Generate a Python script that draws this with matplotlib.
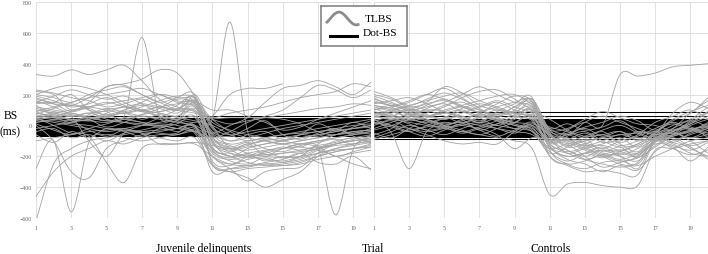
import numpy as np
import matplotlib
matplotlib.use("Agg")
import matplotlib.pyplot as plt
from matplotlib.path import Path
from matplotlib.patches import PathPatch

plt.rcParams["font.family"] = ["Liberation Serif", "DejaVu Serif"]

N = np.nan
trials = list(range(1, 21))
x_ticks = [1, 3, 5, 7, 9, 11, 13, 15, 17, 19]
y_ticks = [-600, -400, -200, 0, 200, 400, 600, 800]
panel_titles = ["Juvenile delinquents", "Controls"]
legend_labels = ["TLBS", "Dot-BS"]

# Trial-level bias scores (TLBS), juvenile delinquents
jd_tlbs = [
    [330, 320, 360, 330, 360, 390, 290, 170, 120, 90, 40, 10, 30, 50, 70, 90, 110, 120, 140, 130],
    [100, 80, 60, 80, 90, 60, 570, 60, 50, 30, 0, -60, -100, -80, -60, -50, -40, -20, 0, 10],
    [150, 140, 130, 180, 250, 270, 300, 360, 340, 190, 0, -150, -200, -180, -150, -120, -100, -80, -60, -50],
    [60, 50, 40, 30, 20, 40, 60, 50, 40, 60, 40, 670, -40, -100, -120, -100, -80, -60, -40, -30],
    [-280, -100, -560, -110, -60, -80, -100, -80, -60, -40, -100, -150, -160, -140, -120, -100, -80, -60, -50, -40],
    [50, 0, -50, -70, -240, -370, -150, -120, -120, -120, -200, -250, -260, -240, -220, -180, -150, -120, -100, -80],
    [-620, -250, -150, -100, -80, -60, -40, -30, -20, -10, -200, -250, -220, -200, -180, -160, -140, -120, -100, -90],
    [-460, -300, -200, -150, -100, -120, -80, -60, -50, 0, -300, -280, -260, -250, -240, -220, -180, -160, -150, -130],
    [20, 30, 10, 0, -20, -30, -40, -50, -60, -30, -150, -200, -180, -160, -150, -140, -150, -580, -150, -100],
    [80, 60, 40, 50, 60, 40, 20, 10, 0, -50, -250, -300, -340, -400, -350, -300, -200, -150, -120, -100],
    [100, 80, 60, 80, 40, 20, 0, 0, -20, -40, -200, -280, -360, -300, -280, -270, -180, -120, -100, -80],
    [80, 60, 40, 30, 60, 80, 100, 60, 40, 20, 60, 200, 240, 240, 270, N, N, N, N, N],
    [50, 40, 30, 40, 60, 80, 60, 40, 20, 0, -50, 0, 50, 150, 240, 260, 290, 250, 200, 280],
    [20, 40, 60, 50, 30, 20, 10, 0, -20, -40, -80, -40, 20, 60, 100, 180, 260, 230, 180, 230],
    [200, 180, 150, 200, 230, 250, 200, 150, 100, 80, 50, 80, 100, 120, 150, 180, 200, 220, 270, 250],
    [220, 200, 100, 150, 250, 260, 200, 150, 180, 200, -100, -200, -150, -120, -100, -80, -60, -40, -20, 0],
    [180, 150, 200, 100, 50, 100, 150, 200, 180, 150, -150, -180, -200, -220, -230, -200, -150, -100, -80, -60],
    [120, 100, 80, 60, 100, 120, 140, 120, 100, 180, -250, -280, -270, -250, -260, -240, -200, -170, -150, -120],
    [160, 120, 60, -100, -200, -50, 0, 50, 100, 150, -100, -150, -120, -100, -80, -60, -40, -30, -20, -10],
    [0, -100, -300, -340, -150, -100, -60, -40, -20, 0, -180, -220, -200, -190, -180, -170, -150, -130, -120, -100],
    [-100, -80, -60, -40, -30, -20, -50, -80, -100, -80, -260, -300, -280, -270, -260, -250, -220, -200, -180, -160],
    [140, 150, 130, 120, 100, 80, 100, 120, 140, 160, 40, -40, -80, -100, -120, -140, -160, -200, -250, -280],
    [60, 80, 100, 120, 140, 160, 180, 200, 150, 120, -50, -100, -80, -50, -20, 0, 20, 40, 60, 80],
    [40, 20, 0, -20, -40, -20, 0, 20, 40, 60, -120, -160, -140, -120, -100, -80, -60, -40, -20, 0],
    [110, 90, 70, 50, 30, 50, 70, 90, 110, 130, -60, -120, -100, -80, -60, -40, -20, 0, 20, 40],
    [200, 240, 260, 240, 200, 150, 100, 80, 60, 100, -80, -130, -180, -200, -210, -200, -180, -150, -130, -110],
    [-20, 0, 20, 40, 80, 120, 100, 80, 60, 120, -140, -200, -240, -260, -250, -230, -200, -170, -150, -140],
    [90, 120, 150, 180, 200, 220, 240, 200, 160, 140, 20, -30, -60, -80, -100, -120, -100, -80, -60, -40],
    [30, 60, 90, 120, 150, 120, 90, 60, 30, 200, -10, -60, -40, -20, 0, 20, 40, 60, 80, 100],
    [170, 140, 90, 110, 60, 80, 40, 70, 30, -10, -90, -140, -110, -150, -170, -130, -110, -90, -120, -60],
    [230, 210, 180, 160, 120, 140, 170, 130, 100, 160, -20, -100, -60, -40, -90, -60, 10, -30, 20, -20],
    [-40, -20, -80, -60, -100, -50, -30, -10, -40, -20, -170, -210, -190, -230, -200, -210, -160, -120, -90, -70],
    [130, 60, 20, 70, 110, 90, 120, 160, 190, 170, -70, -170, -120, -190, -150, -120, -140, -200, -170, -140],
    [70, 110, 140, 100, 70, 100, 130, 110, 80, 150, 100, 100, 60, 20, -30, -10, 40, 80, 120, 160],
    [10, -30, -60, -20, 10, 40, 20, -10, 30, 90, -230, -260, -200, -170, -210, -180, -240, -250, -200, -290],
    [190, 160, 120, 140, 180, 130, 90, 120, 100, 110, 50, 50, 50, 50, 40, 10, -40, -60, -10, 30],
    [-60, -110, -40, -80, -20, -40, -70, -20, 10, 50, -160, -230, -250, -210, -240, -200, -120, -60, -40, -30],
    [90, 50, 80, 40, -10, 20, 70, 110, 170, 140, -40, -70, -20, 30, -60, -90, -50, -20, -70, -110],
    [150, 190, 230, 200, 170, 190, 140, 90, 130, 180, -110, -180, -210, -170, -140, -160, -130, -110, -80, -120],
    [40, 70, 30, -30, -70, -30, -50, -120, -120, -110, -130, -150, -130, -90, -100, -60, -70, -30, -50, -20],
]

# Trial-level bias scores (TLBS), controls
ct_tlbs = [
    [80, 60, 40, 60, 80, 100, 60, 40, 20, 0, -100, -30, 20, 0, 330, 320, 340, 380, 390, 400],
    [40, -50, -280, -40, 0, 20, 0, -20, -40, -60, -150, -120, -100, -80, -60, -50, -40, -30, -20, -10],
    [60, 40, 20, 0, -20, -40, -60, -80, -100, -150, -450, -380, -370, -390, -400, -390, -160, -150, -120, -100],
    [20, 0, -20, -40, -20, 0, 20, 0, -20, -40, -150, -200, -180, -160, -170, -190, -120, -140, -230, -140],
    [150, 130, 100, 120, 150, 200, 250, 200, 150, 120, -60, -100, -150, -200, -250, -260, -200, -150, -100, -80],
    [200, 170, 120, 150, 250, 210, 130, 100, 80, 140, -120, -160, -220, -250, -270, -240, -90, -120, -180, -200],
    [100, 120, 150, 200, 240, 180, 110, 60, 120, 150, -50, -80, -120, -180, -200, -280, -90, -40, 20, 80],
    [-60, -20, 60, 100, 90, 40, -30, 10, 60, 90, -200, -250, -230, -190, -220, -180, -80, -50, -80, -60],
    [-90, -60, -30, -10, 20, 0, -20, -60, -150, -80, -100, -180, -150, -130, -160, -120, -60, 0, 40, 120],
    [130, 110, 80, 60, 100, 130, 160, 190, 200, 130, -20, -60, -40, -100, -140, -120, -50, 30, 80, 180],
    [0, 30, -20, -60, -100, -120, -110, -120, -40, 10, -60, -130, -90, -170, -140, -210, -100, -60, -30, 0],
    [170, 140, 110, 90, 120, 180, 220, 230, 170, 100, 40, -30, -70, -60, -40, -100, -70, -90, -150, -200],
    [50, 80, 100, 70, 40, 60, 20, 90, 140, 180, -160, -250, -280, -240, -230, -250, -110, -70, -40, 20],
    [110, 70, 40, 20, 50, 90, 60, 30, 0, -20, -110, -70, 20, 60, 20, -20, -60, -30, 10, 60],
    [-30, 0, 40, 80, 130, 150, 100, 50, 20, 60, -140, -200, -180, -210, -180, -200, -100, -150, -190, -160],
    [90, 60, 30, 50, 80, 50, 20, 50, 100, 170, -30, -90, -130, -100, -60, -90, -80, -20, 80, 160],
    [60, 40, 80, 130, 170, 120, 80, 40, 0, -40, -180, -140, -100, -60, -120, -170, -60, -110, -50, -20],
    [180, 120, 70, 40, 10, 30, 80, 120, 150, 160, -80, -120, -200, -270, -240, -210, -140, -60, 30, 90],
    [20, -10, -40, 0, 50, 110, 140, 110, 60, 30, -120, -170, -140, -120, -80, -140, -40, 10, -30, -60],
    [140, 160, 180, 140, 90, 60, 30, 70, 90, 120, -40, -50, -10, 20, 60, 30, -30, 40, 90, 130],
    [70, 100, 130, 160, 190, 210, 160, 120, 80, 50, -90, -160, -200, -160, -200, -230, -130, -80, -130, -100],
    [-50, -80, -20, 30, 0, -30, -60, -20, 20, 70, -70, -110, -160, -200, -170, -130, -90, -130, -160, -110],
    [120, 90, 50, 10, -10, 10, 50, 80, 60, 40, -10, -40, -80, -40, -110, -60, 20, 60, 100, 40],
    [30, 60, 100, 140, 160, 120, 90, 140, 190, 150, -130, -220, -250, -300, -260, -290, -170, -100, -60, -20],
    [160, 130, 160, 200, 170, 130, 80, 30, -20, 20, -100, -60, -110, -150, -100, -70, -20, 20, -20, -50],
    [10, 40, 70, 40, 0, -40, -10, 30, 70, 100, -60, -100, -70, -30, 0, -50, -100, -60, 0, 40],
    [80, 50, 10, -30, -10, 40, 70, 50, 10, -30, -170, -230, -180, -140, -190, -150, -90, -50, -100, -180],
    [190, 150, 100, 60, 40, 80, 120, 160, 120, 80, -30, -20, 40, 90, 50, 10, 0, -40, -80, -30],
    [-20, 20, 60, 30, -10, -50, -20, 10, 40, 110, -110, -90, -140, -190, -230, -200, -70, -20, 30, -10],
    [100, 130, 90, 60, 90, 120, 100, 70, 120, 170, -50, -140, -120, -80, -130, -100, -40, -110, -140, -220],
    [40, 0, -40, -70, -30, 10, -30, -70, -30, 0, -90, -60, -20, -70, -40, -80, -60, -40, 10, 90],
    [60, 90, 120, 100, 60, 20, 60, 100, 80, 40, -140, -180, -220, -190, -160, -180, -100, -40, -10, -80],
    [220, 180, 130, 170, 210, 170, 120, 150, 100, 60, -70, -90, -50, -110, -90, -40, -50, 80, 150, 110],
    [-80, -40, 0, -30, -60, -20, 10, -20, -50, -10, -200, -260, -300, -290, -310, -320, -100, -60, -40, -10],
    [130, 100, 60, 110, 140, 90, 50, 0, 50, 90, -20, 10, -30, -10, 30, -40, -90, -70, -30, 10],
]

# Dot-probe bias scores (one constant per participant)
jd_dotbs = [62, 48, 41, 37, 33, 29, 27, 24, 21, 19, 16, 14, 11, 9, 7, 6, 3, 1, -1, -3, -5,
            -7, -8, -11, -13, -14, -17, -19, -21, -23, -26, -28, -31, -34, -37, -39, -43,
            -46, -51, -55, -59, -66]
ct_dotbs = [84, 61, 40, 33, 26, 22, 18, 15, 12, 9, 7, 4, 2, 0, -2, -4, -6, -9, -11, -13,
            -15, -17, -20, -22, -24, -27, -29, -32, -35, -38, -41, -44, -48, -52, -56, -61,
            -67, -74, -86]

GRAY = "#a3a3a3"


def smooth_line(ax, xs, ys, **kw):
    """Draw a smoothed (Excel-style) line as cubic Bezier segments through the data points."""
    xs = np.asarray(xs, float)
    ys = np.asarray(ys, float)
    ok = ~np.isnan(ys)
    xs, ys = xs[ok], ys[ok]
    n = len(xs)
    verts = [(xs[0], ys[0])]
    codes = [Path.MOVETO]
    for i in range(n - 1):
        x0, y0 = xs[max(i - 1, 0)], ys[max(i - 1, 0)]
        x1, y1 = xs[i], ys[i]
        x2, y2 = xs[i + 1], ys[i + 1]
        x3, y3 = xs[min(i + 2, n - 1)], ys[min(i + 2, n - 1)]
        c1 = (x1 + (x2 - x0) / 6.0, y1 + (y2 - y0) / 6.0)
        c2 = (x2 - (x3 - x1) / 6.0, y2 - (y3 - y1) / 6.0)
        verts += [c1, c2, (x2, y2)]
        codes += [Path.CURVE4] * 3
    ax.add_patch(PathPatch(Path(verts, codes), fill=False, **kw))


fig = plt.figure(figsize=(7.08, 2.55), dpi=100)
ax_l = fig.add_axes([36 / 708, 1 - 219 / 255, (371 - 36) / 708, 216 / 255])
ax_r = fig.add_axes([374 / 708, 1 - 219 / 255, (708 - 374) / 708, 216 / 255])

for ax, tl, db in [(ax_l, jd_tlbs, jd_dotbs), (ax_r, ct_tlbs, ct_dotbs)]:
    ax.set_xlim(1, 20)
    ax.set_ylim(-600, 800)
    ax.set_xticks(x_ticks)
    ax.set_yticks(y_ticks)
    ax.grid(True, color="#dcdcdc", lw=0.6)
    ax.set_axisbelow(True)
    for s in ax.spines.values():
        s.set_visible(False)
    ax.tick_params(length=0, labelsize=4.2, labelcolor="#606060", pad=5)
    ax.hlines(db, trials[0], trials[-1], color="black", lw=0.75, zorder=2)
    for series in tl:
        smooth_line(ax, trials, series, edgecolor=GRAY, lw=0.6, zorder=3)

ax_l.tick_params(axis="y", pad=3)
ax_r.set_yticklabels([])

fig.text(204 / 708, 1 - 249 / 255, panel_titles[0], ha="center", va="center", fontsize=8.4)
fig.text(551 / 708, 1 - 249 / 255, panel_titles[1], ha="center", va="center", fontsize=8.4)
fig.text(373 / 708, 1 - 249 / 255, "Trial", ha="center", va="center", fontsize=8.4)
fig.text(11 / 708, 1 - 116 / 255, "BS", ha="center", va="center", fontsize=8.4)
fig.text(10 / 708, 1 - 132 / 255, "(ms)", ha="center", va="center", fontsize=8.4)

# legend
lg = fig.add_axes([320.5 / 708, 1 - 46.7 / 255, 86.5 / 708, 40 / 255])
lg.set_xlim(0, 1)
lg.set_ylim(0, 1)
lg.set_xticks([])
lg.set_yticks([])
for s in lg.spines.values():
    s.set_edgecolor("#7a7a7a")
    s.set_linewidth(1.1)
t = np.linspace(0, 1, 60)
lg.plot(0.075 + 0.36 * t, 0.68 + 0.16 * np.sin(2 * np.pi * t * 0.9 - 0.6), color="#8c8c8c", lw=2.0)
lg.plot([0.11, 0.425], [0.235, 0.235], color="black", lw=2.2)
lg.text(0.51, 0.69, legend_labels[0], va="center", ha="left", fontsize=8.2)
lg.text(0.49, 0.33, legend_labels[1], va="center", ha="left", fontsize=8.2)

fig.savefig("out.png", dpi=100)
